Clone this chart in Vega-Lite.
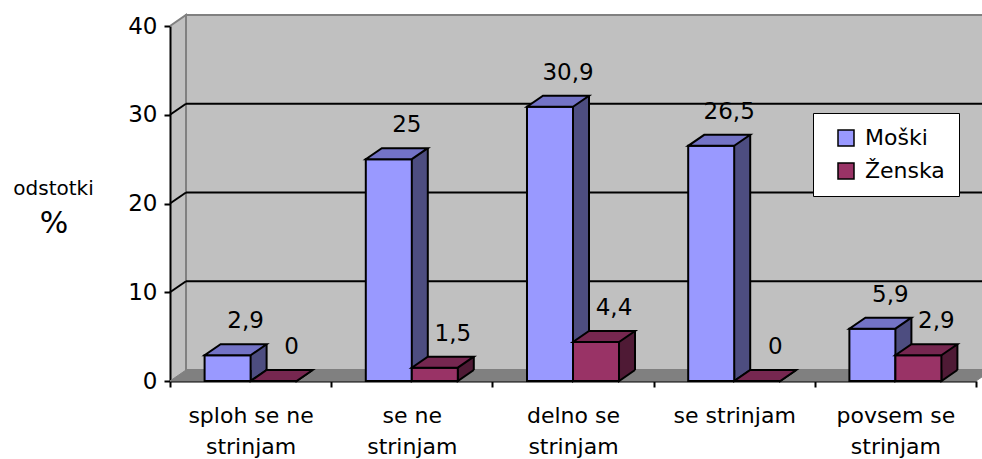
{
  "$schema": "https://vega.github.io/schema/vega-lite/v6.json",
  "width": 806,
  "height": 355,
  "autosize": {"type": "none"},
  "padding": {"left": 170, "top": 26, "right": 6, "bottom": 78},
  "background": "#FFFFFF",
  "config": {
    "font": "DejaVu Sans",
    "view": {"stroke": null, "fill": "#C0C0C0"},
    "locale": {"number": {"decimal": ",", "thousands": ".", "grouping": [3], "currency": ["", " €"]}},
    "axis": {
      "domainColor": "#000000", "domainWidth": 2,
      "tickColor": "#000000", "tickWidth": 2, "tickSize": 6,
      "labelColor": "#000000", "labelFont": "DejaVu Sans",
      "grid": false, "zindex": 1
    }
  },
  "datasets": {
    "odgovori": [
      {"kategorija": "sploh se ne strinjam", "spol": "Moški", "odstotek": 2.9},
      {"kategorija": "sploh se ne strinjam", "spol": "Ženska", "odstotek": 0},
      {"kategorija": "se ne strinjam", "spol": "Moški", "odstotek": 25},
      {"kategorija": "se ne strinjam", "spol": "Ženska", "odstotek": 1.5},
      {"kategorija": "delno se strinjam", "spol": "Moški", "odstotek": 30.9},
      {"kategorija": "delno se strinjam", "spol": "Ženska", "odstotek": 4.4},
      {"kategorija": "se strinjam", "spol": "Moški", "odstotek": 26.5},
      {"kategorija": "se strinjam", "spol": "Ženska", "odstotek": 0},
      {"kategorija": "povsem se strinjam", "spol": "Moški", "odstotek": 5.9},
      {"kategorija": "povsem se strinjam", "spol": "Ženska", "odstotek": 2.9}
    ],
    "mreza": [{"raven": 10}, {"raven": 20}, {"raven": 30}],
    "okvir": [{"stena": "zadnja"}]
  },
  "title": {
    "text": "%", "orient": "top", "anchor": "start", "frame": "group", "offset": 0,
    "dx": -116, "dy": 252, "fontSize": 30, "font": "DejaVu Sans", "fontWeight": "normal",
    "color": "#000000", "align": "center", "baseline": "alphabetic"
  },
  "layer": [
    {
      "data": {"name": "okvir"},
      "mark": {"type": "rect", "fill": "#C0C0C0", "stroke": "#808080", "strokeWidth": 2, "xOffset": 16, "x2Offset": 40, "yOffset": -11, "y2Offset": -11},
      "encoding": {
        "x": {"datum": "sploh se ne strinjam", "bandPosition": 0, "title": null},
        "x2": {"datum": "povsem se strinjam", "bandPosition": 1},
        "y": {"datum": 40, "title": "odstotki"},
        "y2": {"datum": 0}
      }
    },
    {
      "data": {"name": "okvir"},
      "mark": {"type": "point", "shape": "M0 0 L16 -11 L16 0", "size": 4, "filled": true, "fill": "#C0C0C0", "stroke": "#808080", "strokeWidth": 2, "opacity": 1},
      "encoding": {
        "x": {"datum": "sploh se ne strinjam", "bandPosition": 0, "title": null},
        "y": {"datum": 40, "title": "odstotki"}
      }
    },
    {
      "data": {"name": "okvir"},
      "mark": {"type": "point", "shape": "M0 0 L806 0 L822 -11 L16 -11 Z", "size": 4, "filled": true, "fill": "#808080", "stroke": "#808080", "strokeWidth": 1, "opacity": 1},
      "encoding": {
        "x": {"datum": "sploh se ne strinjam", "bandPosition": 0, "title": null},
        "y": {"datum": 0, "title": "odstotki"}
      }
    },
    {
      "data": {"name": "mreza"},
      "mark": {"type": "rule", "color": "#000000", "strokeWidth": 2, "xOffset": 16, "x2Offset": 40, "yOffset": -11, "y2Offset": -11},
      "encoding": {
        "x": {"datum": "sploh se ne strinjam", "bandPosition": 0, "title": null},
        "x2": {"datum": "povsem se strinjam", "bandPosition": 1},
        "y": {"field": "raven", "type": "quantitative", "title": "odstotki"}
      }
    },
    {
      "data": {"name": "mreza"},
      "mark": {"type": "point", "shape": "M0 0 L16 -11", "size": 4, "filled": false, "stroke": "#000000", "strokeWidth": 2, "opacity": 1},
      "encoding": {
        "x": {"datum": "sploh se ne strinjam", "bandPosition": 0, "title": null},
        "y": {"field": "raven", "type": "quantitative", "title": "odstotki"}
      }
    },
    {
      "data": {"name": "odgovori"},
      "transform": [{"filter": "datum.spol === 'Moški'"}],
      "mark": {"type": "rule", "stroke": "#4D4D80", "strokeWidth": 16, "strokeCap": "butt", "xOffset": 8, "yOffset": -11, "y2Offset": -11},
      "encoding": {
        "x": {"field": "kategorija", "type": "nominal", "title": null},
        "y": {"field": "odstotek", "type": "quantitative", "title": "odstotki"},
        "y2": {"datum": 0}
      }
    },
    {
      "data": {"name": "odgovori"},
      "transform": [{"filter": "datum.spol === 'Moški'"}],
      "mark": {"type": "point", "shape": "M0 -11 L0 0 L16 -11", "size": 4, "filled": true, "fill": "#4D4D80", "stroke": "#000000", "strokeWidth": 2, "opacity": 1},
      "encoding": {
        "x": {"field": "kategorija", "type": "nominal", "title": null},
        "y": {"datum": 0, "title": "odstotki"}
      }
    },
    {
      "data": {"name": "odgovori"},
      "transform": [{"filter": "datum.spol === 'Moški'"}],
      "mark": {"type": "rule", "stroke": "#000000", "strokeWidth": 2, "xOffset": 16, "yOffset": -11, "y2Offset": -11},
      "encoding": {
        "x": {"field": "kategorija", "type": "nominal", "title": null},
        "y": {"field": "odstotek", "type": "quantitative", "title": "odstotki"},
        "y2": {"datum": 0}
      }
    },
    {
      "data": {"name": "odgovori"},
      "transform": [{"filter": "datum.spol === 'Ženska'"}],
      "mark": {"type": "rule", "stroke": "#4F1A35", "strokeWidth": 16, "strokeCap": "butt", "xOffset": 54, "yOffset": -11, "y2Offset": -11},
      "encoding": {
        "x": {"field": "kategorija", "type": "nominal", "title": null},
        "y": {"field": "odstotek", "type": "quantitative", "title": "odstotki"},
        "y2": {"datum": 0}
      }
    },
    {
      "data": {"name": "odgovori"},
      "transform": [{"filter": "datum.spol === 'Ženska'"}],
      "mark": {"type": "point", "shape": "M46 -11 L46 0 L62 -11", "size": 4, "filled": true, "fill": "#4F1A35", "stroke": "#000000", "strokeWidth": 2, "opacity": 1},
      "encoding": {
        "x": {"field": "kategorija", "type": "nominal", "title": null},
        "y": {"datum": 0, "title": "odstotki"}
      }
    },
    {
      "data": {"name": "odgovori"},
      "transform": [{"filter": "datum.spol === 'Ženska'"}],
      "mark": {"type": "rule", "stroke": "#000000", "strokeWidth": 2, "xOffset": 62, "yOffset": -11, "y2Offset": -11},
      "encoding": {
        "x": {"field": "kategorija", "type": "nominal", "title": null},
        "y": {"field": "odstotek", "type": "quantitative", "title": "odstotki"},
        "y2": {"datum": 0}
      }
    },
    {
      "data": {"name": "odgovori"},
      "mark": {"type": "bar", "stroke": "#000000", "strokeWidth": 2, "opacity": 1},
      "encoding": {
        "x": {
          "field": "kategorija", "type": "nominal", "title": null,
          "scale": {
            "domain": ["sploh se ne strinjam", "se ne strinjam", "delno se strinjam", "se strinjam", "povsem se strinjam"],
            "paddingInner": 0, "paddingOuter": 0
          },
          "axis": {
            "labelAngle": 0, "labelAlign": "center", "labelFontSize": 22, "labelBaseline": "alphabetic", "labelPadding": 35,
            "labelLineHeight": 31, "labelLimit": 400, "labelOverlap": false, "tickBand": "extent",
            "labelExpr": "(datum.label === 'se strinjam' || lastindexof(datum.label, ' ') < 0) ? datum.label : [slice(datum.label, 0, lastindexof(datum.label, ' ')), 'strinjam']"
          }
        },
        "xOffset": {"field": "spol", "type": "nominal", "scale": {"domain": ["Moški", "Ženska"], "paddingInner": 0, "paddingOuter": 0.752}},
        "y": {
          "field": "odstotek", "type": "quantitative", "title": "odstotki",
          "scale": {"domain": [0, 40], "nice": false},
          "axis": {
            "values": [0, 10, 20, 30, 40], "labelFontSize": 23, "labelPadding": 7,
            "titleAngle": 0, "titleAlign": "center", "titleBaseline": "alphabetic",
            "titleX": -117, "titleY": 168, "titleFontSize": 20, "titleFont": "DejaVu Sans",
            "titleFontWeight": "normal", "titleColor": "#000000"
          }
        },
        "color": {
          "field": "spol", "type": "nominal",
          "scale": {"domain": ["Moški", "Ženska"], "range": ["#9999FF", "#993366"]},
          "legend": {
            "title": null, "orient": "none", "legendX": 643, "legendY": 87,
            "fillColor": "#FFFFFF", "strokeColor": "#000000", "padding": 14,
            "symbolType": "square", "symbolSize": 256, "symbolStrokeColor": "#000000", "symbolStrokeWidth": 1.5,
            "symbolOffset": 8, "labelFont": "DejaVu Sans", "labelFontSize": 22, "labelColor": "#000000",
            "labelOffset": 8, "rowPadding": 11
          }
        }
      }
    },
    {
      "data": {"name": "odgovori"},
      "mark": {"type": "point", "shape": "M-23 0 L23 0 L39 -11 L-7 -11 Z", "size": 4, "filled": true, "stroke": "#000000", "strokeWidth": 2, "opacity": 1},
      "encoding": {
        "x": {"field": "kategorija", "type": "nominal", "title": null},
        "xOffset": {"field": "spol", "type": "nominal"},
        "y": {"field": "odstotek", "type": "quantitative", "title": "odstotki"},
        "fill": {"field": "spol", "type": "nominal", "scale": {"domain": ["Moški", "Ženska"], "range": ["#7373C6", "#762750"]}, "legend": null}
      }
    },
    {
      "data": {"name": "odgovori"},
      "mark": {"type": "text", "font": "DejaVu Sans", "fontSize": 23, "color": "#000000", "align": "center", "baseline": "alphabetic", "dx": 18, "dy": -27},
      "encoding": {
        "x": {"field": "kategorija", "type": "nominal", "title": null},
        "xOffset": {"field": "spol", "type": "nominal"},
        "y": {"field": "odstotek", "type": "quantitative", "title": "odstotki"},
        "text": {"field": "odstotek", "type": "quantitative", "format": ".1~f"}
      }
    }
  ]
}
